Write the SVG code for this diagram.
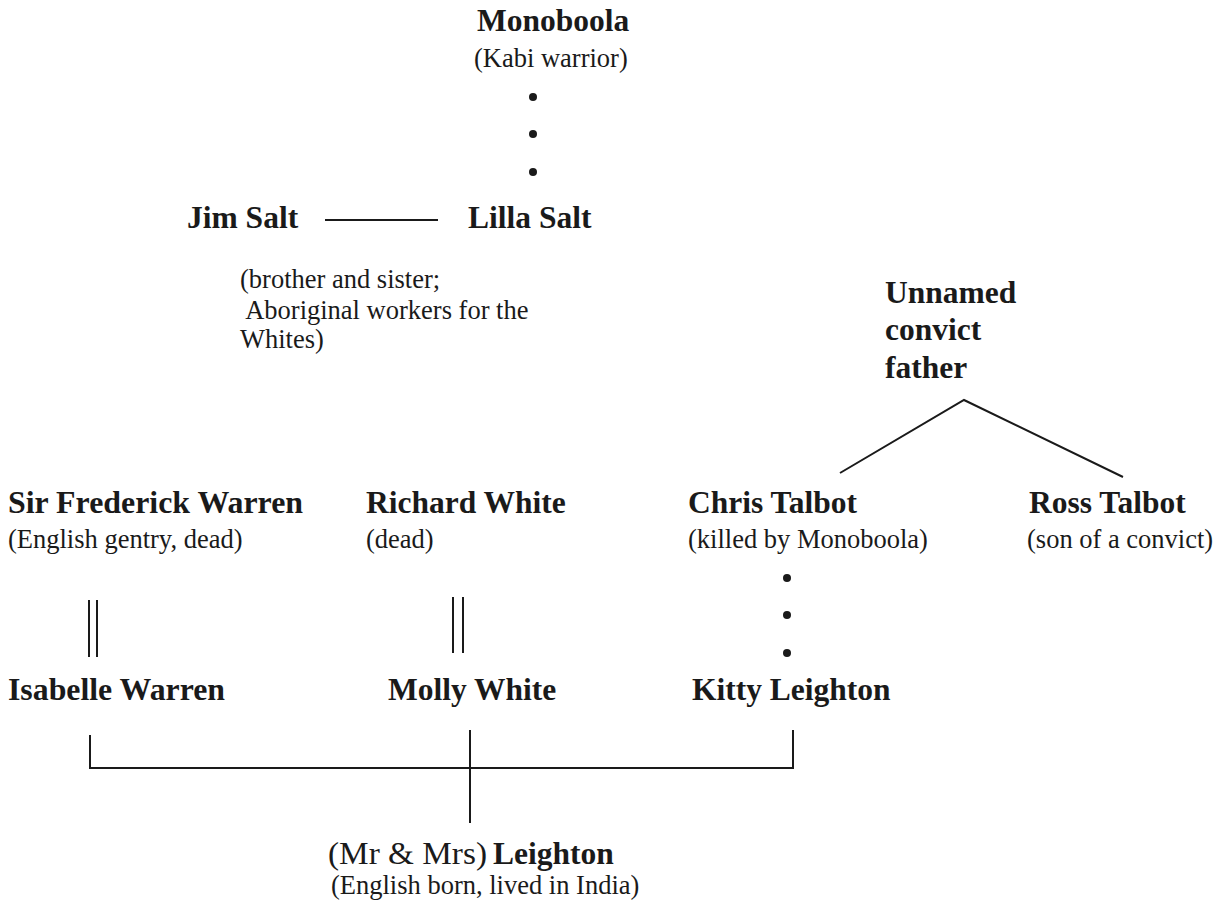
<svg xmlns="http://www.w3.org/2000/svg" width="1228" height="906" viewBox="0 0 1228 906">
<style>
  text { font-family: "Liberation Serif", "Times New Roman", serif; fill: #1a1a1a; }
  .name { font-weight: bold; font-size: 31.5px; }
  .note { font-size: 26.5px; }
  .ln { stroke: #1a1a1a; stroke-width: 2; fill: none; }
  .dot { fill: #1a1a1a; }
</style>
<rect width="1228" height="906" fill="#ffffff"/>
<g id="connectors">
  <line class="ln" x1="325" y1="220" x2="438" y2="220"/>
  <polyline class="ln" points="840,473 964,400 1123,477"/>
  <line class="ln" x1="89" y1="600" x2="89" y2="657"/>
  <line class="ln" x1="97" y1="600" x2="97" y2="657"/>
  <line class="ln" x1="453" y1="597" x2="453" y2="653"/>
  <line class="ln" x1="463" y1="597" x2="463" y2="653"/>
  <polyline class="ln" points="90,735 90,768 793,768 793,730"/>
  <line class="ln" x1="470" y1="730" x2="470" y2="823"/>
  <circle class="dot" cx="533" cy="97" r="4"/>
  <circle class="dot" cx="533" cy="134" r="4"/>
  <circle class="dot" cx="533" cy="172" r="4"/>
  <circle class="dot" cx="787" cy="578" r="4"/>
  <circle class="dot" cx="787" cy="615" r="4"/>
  <circle class="dot" cx="787" cy="653" r="4"/>
</g>
<g id="monoboola">
  <text class="name" x="477" y="31">Monoboola</text>
  <text class="note" x="474" y="67">(Kabi warrior)</text>
</g>
<g id="jim-salt">
  <text class="name" x="187" y="228">Jim Salt</text>
</g>
<g id="lilla-salt">
  <text class="name" x="468" y="228">Lilla Salt</text>
</g>
<g id="salt-note">
  <text class="note" x="240" y="288">(brother and sister;</text>
  <text class="note" x="240" y="319" xml:space="preserve"> Aboriginal workers for the</text>
  <text class="note" x="240" y="348">Whites)</text>
</g>
<g id="convict-father">
  <text class="name" x="885" y="303">Unnamed</text>
  <text class="name" x="885" y="340">convict</text>
  <text class="name" x="885" y="378">father</text>
</g>
<g id="sir-frederick-warren">
  <text class="name" x="8" y="513" textLength="295" lengthAdjust="spacingAndGlyphs">Sir Frederick Warren</text>
  <text class="note" x="8" y="548">(English gentry, dead)</text>
</g>
<g id="richard-white">
  <text class="name" x="366" y="513">Richard White</text>
  <text class="note" x="366" y="548">(dead)</text>
</g>
<g id="chris-talbot">
  <text class="name" x="688" y="513">Chris Talbot</text>
  <text class="note" x="688" y="548">(killed by Monoboola)</text>
</g>
<g id="ross-talbot">
  <text class="name" x="1029" y="513">Ross Talbot</text>
  <text class="note" x="1027" y="548">(son of a convict)</text>
</g>
<g id="isabelle-warren">
  <text class="name" x="8" y="700" textLength="217" lengthAdjust="spacingAndGlyphs">Isabelle Warren</text>
</g>
<g id="molly-white">
  <text class="name" x="388" y="700">Molly White</text>
</g>
<g id="kitty-leighton">
  <text class="name" x="692" y="700">Kitty Leighton</text>
</g>
<g id="leighton">
  <text x="328" y="864" style="font-size:31px" textLength="159" lengthAdjust="spacingAndGlyphs">(Mr &amp; Mrs)</text>
  <text class="name" x="493" y="864">Leighton</text>
  <text class="note" x="331" y="894">(English born, lived in India)</text>
</g>
</svg>
